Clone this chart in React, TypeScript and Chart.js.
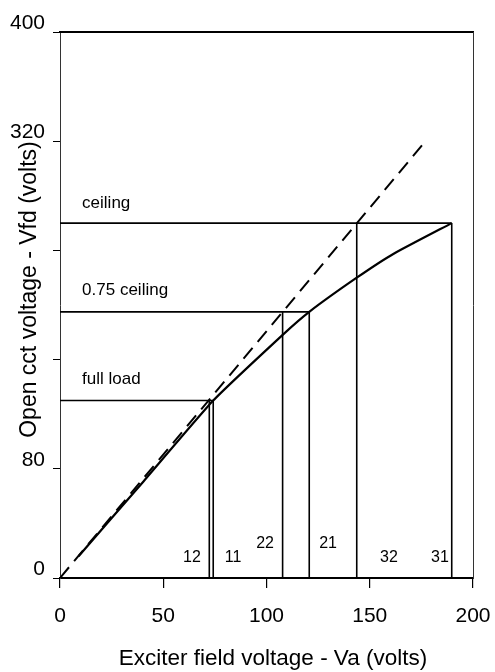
import React, { useEffect, useRef } from "react";
import { Chart, registerables } from "chart.js";

Chart.register(...registerables);

// ---- data ----
const xTickStep = 50;
const yTickStep = 80;
const yLabeledTicks = [0, 80, 320, 400];
const xAxisTitle = "Exciter field voltage - Va (volts)";
const yAxisTitle = "Open cct voltage - Vfd (volts)";

const airGapLineX = [0, 177];
const airGapLineY = [0, 320];

const curveX = [9, 40, 74.2, 108.1, 120.7, 143.7, 161.4, 189.7];
const curveY = [16, 70, 130, 178.5, 195, 220, 237.4, 260];

const levelNames = ["ceiling", "0.75 ceiling", "full load"];
const levelValues = [260, 195, 130];
const levelEnds = [189.7, 120.7, 74.2];
const levelLabelX = 10.7;
const levelLabelY = [274.7, 211, 145.8];

const dropLinesX = [72.3, 74.2, 107.8, 120.7, 143.7, 189.7];
const dropLinesTop = [130, 130, 195, 195, 260, 260];

const regionLabels = ["12", "11", "22", "21", "32", "31"];
const regionLabelX = [63.9, 83.8, 99.3, 129.8, 159.3, 184.0];
const regionLabelY = [14.7, 14.7, 24.9, 24.9, 14.7, 14.7];

const FONT = '"Liberation Sans", Arial, sans-serif';

const textPlugin = {
  id: "textLabels",
  afterDraw(chart: any) {
    const { ctx } = chart;
    const x = chart.scales.x;
    const y = chart.scales.y;
    ctx.save();
    ctx.fillStyle = "#000";
    ctx.textBaseline = "middle";
    ctx.font = `17px ${FONT}`;
    ctx.textAlign = "left";
    levelNames.forEach((n, i) => {
      ctx.fillText(n, x.getPixelForValue(levelLabelX), y.getPixelForValue(levelLabelY[i]));
    });
    ctx.font = `16px ${FONT}`;
    ctx.textAlign = "center";
    regionLabels.forEach((n, i) => {
      ctx.fillText(n, x.getPixelForValue(regionLabelX[i]), y.getPixelForValue(regionLabelY[i]));
    });
    // axis titles
    ctx.font = `22.5px ${FONT}`;
    ctx.textAlign = "center";
    ctx.fillText(xAxisTitle, (x.left + x.right) / 2 + 6.5, x.bottom - 13);
    ctx.save();
    ctx.font = `23px ${FONT}`;
    ctx.translate(30, (y.top + y.bottom) / 2 - 15.5);
    ctx.rotate(-Math.PI / 2);
    ctx.fillText(yAxisTitle, 0, 0);
    ctx.restore();
    ctx.restore();
  },
};

export default function App() {
  const ref = useRef<HTMLCanvasElement>(null);
  useEffect(() => {
    if (!ref.current) return;
    const datasets: any[] = [];
    datasets.push({
      data: airGapLineX.map((v, i) => ({ x: v, y: airGapLineY[i] })),
      borderColor: "#000",
      borderWidth: 2,
      borderDash: [14, 8],
      showLine: true,
      pointRadius: 0,
      fill: false,
    });
    datasets.push({
      data: curveX.map((v, i) => ({ x: v, y: curveY[i] })),
      borderColor: "#000",
      borderWidth: 2.2,
      showLine: true,
      pointRadius: 0,
      tension: 0.15,
      borderJoinStyle: "round",
      fill: false,
    });
    levelValues.forEach((lv, i) => {
      datasets.push({
        data: [
          { x: 0, y: lv },
          { x: levelEnds[i], y: lv },
        ],
        borderColor: "#000",
        borderWidth: 1.6,
        showLine: true,
        pointRadius: 0,
      });
    });
    dropLinesX.forEach((dx, i) => {
      datasets.push({
        data: [
          { x: dx, y: dropLinesTop[i] },
          { x: dx, y: 0 },
        ],
        borderColor: "#000",
        borderWidth: 1.6,
        showLine: true,
        pointRadius: 0,
      });
    });

    const chart = new Chart(ref.current, {
      type: "scatter",
      data: { datasets },
      plugins: [textPlugin],
      options: {
        animation: false,
        responsive: false,
        devicePixelRatio: 1,
        layout: { padding: { left: 0, top: 32, right: 22, bottom: 0 } },
        plugins: { legend: { display: false }, tooltip: { enabled: false } },
        scales: {
          x: {
            type: "linear",
            position: "bottom",
            min: 0,
            max: 200,
            afterFit: (s: any) => {
              s.height = 94;
              s.paddingLeft = 0;
              s.paddingRight = 0;
            },
            ticks: {
              stepSize: xTickStep,
              color: "#000",
              font: { family: FONT, size: 21 },
              padding: 16,
              maxRotation: 0,
            },
            grid: {
              drawOnChartArea: false,
              drawTicks: true,
              tickLength: 10,
              color: "#000",
              lineWidth: 1.2,
            },
            border: { display: true, color: "#000", width: 2 },
            title: { display: false },
          },
          y: {
            type: "linear",
            position: "left",
            min: 0,
            max: 400,
            afterFit: (s: any) => {
              s.width = 60;
            },
            ticks: {
              stepSize: yTickStep,
              color: "#000",
              font: { family: FONT, size: 21 },
              padding: 8,
              labelOffset: -9,
              callback: (v: any) => (yLabeledTicks.includes(Number(v)) ? String(v) : ""),
            },
            grid: {
              drawOnChartArea: false,
              drawTicks: true,
              tickLength: 7,
              color: "#000",
              lineWidth: 1,
            },
            border: { display: true, color: "#333", width: 1 },
            title: { display: false },
          },
          xTop: {
            type: "linear",
            position: "top",
            min: 0,
            max: 200,
            afterFit: (s: any) => {
              s.height = 0;
              s.paddingLeft = 0;
              s.paddingRight = 0;
            },
            ticks: { display: false },
            grid: { display: false, drawTicks: false },
            border: { display: true, color: "#000", width: 2 },
          },
          yRight: {
            type: "linear",
            position: "right",
            min: 0,
            max: 400,
            afterFit: (s: any) => {
              s.width = 0;
            },
            ticks: { display: false },
            grid: { display: false, drawTicks: false },
            border: { display: true, color: "#333", width: 1 },
          },
        },
      } as any,
    });
    return () => chart.destroy();
  }, []);

  return (
    <div style={{ position: "fixed", left: 0, top: 0, width: 495, height: 672, background: "#fff" }}>
      <canvas ref={ref} width={495} height={672} style={{ display: "block" }} />
    </div>
  );
}
